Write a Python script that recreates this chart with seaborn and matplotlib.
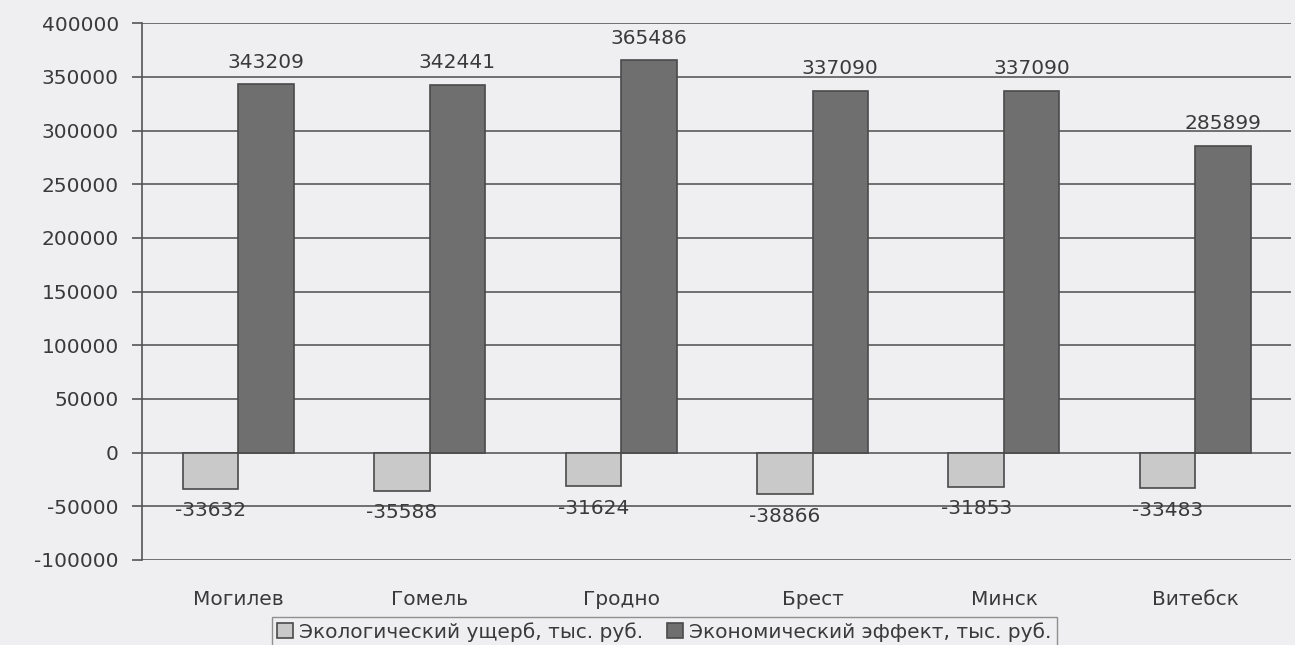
import numpy as np, pandas as pd
import matplotlib; matplotlib.use("Agg")
import matplotlib.pyplot as plt
import seaborn as sns

regions = ["Могилев", "Гомель", "Гродно", "Брест", "Минск", "Витебск"]
eco_damage = [-33632, -35588, -31624, -38866, -31853, -33483]
econ_effect = [343209, 342441, 365486, 337090, 337090, 285899]
series = ["Экологический ущерб, тыс. руб.", "Экономический эффект, тыс. руб."]
yticks = [-100000, -50000, 0, 50000, 100000, 150000, 200000, 250000, 300000, 350000, 400000]

df = pd.DataFrame({
    "region": regions * 2,
    "series": [series[0]] * len(regions) + [series[1]] * len(regions),
    "value": eco_damage + econ_effect,
})

sns.set_style("white")
plt.rcParams["font.family"] = ["DejaVu Sans"]
BG = "#efeff1"
TXT = "#3a3a3a"
fig = plt.figure(figsize=(12.95, 6.45), dpi=100, facecolor=BG)
ax = fig.add_axes([0.110, 0.132, 0.887, 0.832], facecolor=BG)

sns.barplot(data=df, x="region", y="value", hue="series", order=regions, hue_order=series,
            palette=["#c9c9c9", "#6f6f6f"], width=0.58, edgecolor="#4a4a4a", linewidth=1.2,
            ax=ax, legend=True)

for cont in ax.containers:
    ax.bar_label(cont, fmt="%d", padding=9, fontsize=14.5, color=TXT)

ax.set_ylim(-100000, 400000)
ax.set_xlim(-0.5, 5.5)
ax.set_yticks(yticks)
ax.set_yticklabels([str(v) for v in yticks], fontsize=14.5, color=TXT)
ax.tick_params(axis="y", length=7, width=1.2, color="#555555", pad=10, left=True)
ax.tick_params(axis="x", length=0, pad=22, labelsize=14.5, labelcolor=TXT)
ax.set_xlabel(""); ax.set_ylabel("")
ax.yaxis.grid(True, color="#5a5a5a", lw=1.2)
ax.set_axisbelow(True)
for s in ["top", "right", "bottom"]:
    ax.spines[s].set_visible(False)
ax.spines["left"].set_color("#555555"); ax.spines["left"].set_linewidth(1.2)

h, l = ax.get_legend_handles_labels()
ax.legend_.remove()
leg = fig.legend(h, l, loc="lower center", bbox_to_anchor=(0.513, -0.018), ncol=2,
                 fontsize=14.5, frameon=True, fancybox=False, edgecolor="#777777",
                 handlelength=0.8, handleheight=0.8, handletextpad=0.3, columnspacing=1.2,
                 borderpad=0.25, facecolor=BG, labelcolor=TXT)

fig.savefig("out.png", dpi=100, facecolor=BG)
